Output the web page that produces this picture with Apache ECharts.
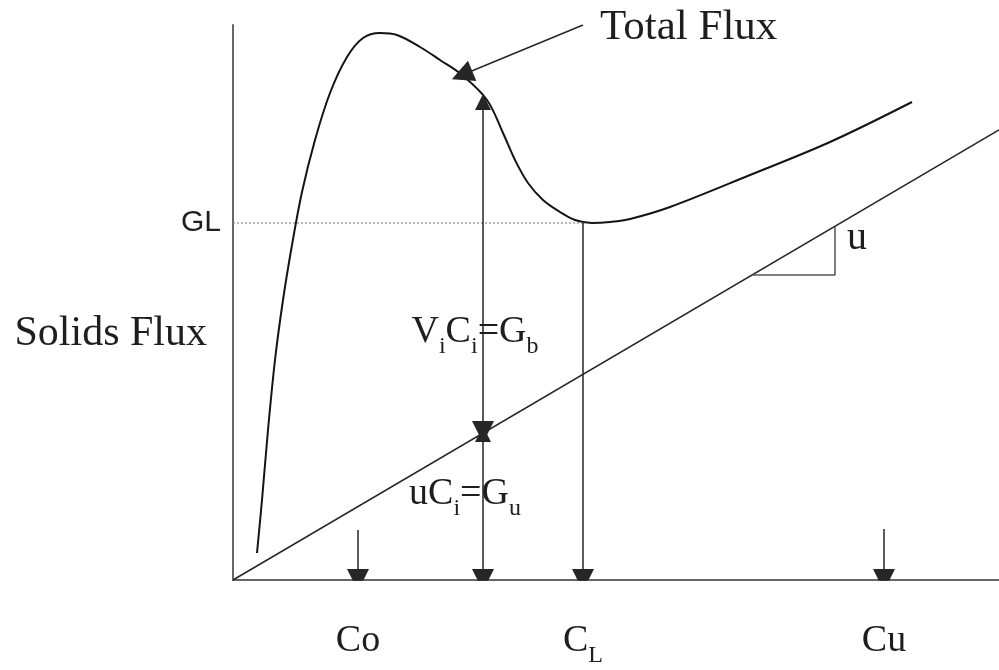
<!DOCTYPE html>
<html>
<head>
<meta charset="utf-8">
<script src="https://cdn.jsdelivr.net/npm/echarts@6/dist/echarts.min.js"></script>
<style>html,body{margin:0;padding:0;background:#fff;}#c{width:999px;height:670px;}</style>
</head>
<body>
<div id="c"></div>
<script>
// Total flux curve (arbitrary units: concentration vs solids flux)
const fluxC = [24, 29, 35, 42, 50, 59, 69, 82, 97, 114, 130, 147, 164, 187, 207, 229, 254, 270, 282, 295, 310, 327, 342, 359, 377, 397, 437, 517, 597, 679];
const fluxG = [27, 80, 150, 220, 280, 335, 388, 440, 487, 523, 542, 547, 545, 533, 520, 505, 480, 447, 420, 397, 380, 368, 360, 357, 358, 361, 373, 405, 438, 478];
// underflow flux line uC
const underC = [0, 766];
const underG = [0, 450];
// key values
const GL = 357;
const concNames = ['Co', 'CL', 'Cu'];
const concValues = [125, 350, 651];
const Ci = 250;
const GbTop = 478, GuTop = 147;
const arrowTopCo = 50, arrowTopCu = 51;
const totalFluxArrow = [[350, 555], [229, 505]];
const slopeTri = [[520, 305], [602, 305], [602, 353]];

const serif = '"Liberation Serif", "Times New Roman", serif';
const ink = '#1e1e1e';
const chart = echarts.init(document.getElementById('c'));
const arrowStyle = {color: '#262626', width: 1.5, opacity: 1};
const lineData = (pairs) => pairs.map(p => ({coords: p}));
const richSub = {
  m: {fontFamily: serif, fontSize: 38, color: ink, verticalAlign: 'bottom', padding: [0, 0, 7, 0]},
  s: {fontFamily: serif, fontSize: 24, color: ink, verticalAlign: 'bottom'}
};

chart.setOption({
  animation: false,
  grid: {left: 233, right: 0, top: 25, bottom: 90},
  xAxis: {
    type: 'value', min: 0, max: 766,
    axisLine: {show: true, lineStyle: {color: '#666', width: 2}},
    axisTick: {show: false}, splitLine: {show: false},
    axisLabel: {
      show: true, customValues: concValues, margin: 42,
      formatter: (v) => {
        const n = concNames[concValues.indexOf(v)];
        if (n === 'CL') return '{m|C}{s|L}';
        return '{m|' + n + '}';
      },
      rich: {
        m: {fontFamily: serif, fontSize: 38, color: ink, verticalAlign: 'bottom', padding: [0, 0, 8, 0]},
        s: {fontFamily: serif, fontSize: 24, color: ink, verticalAlign: 'bottom'}
      }
    }
  },
  yAxis: {
    type: 'value', min: 0, max: 555,
    axisLine: {show: true, lineStyle: {color: '#666', width: 2}},
    axisTick: {show: false}, splitLine: {show: false}, axisLabel: {show: false}
  },
  series: [
    {
      type: 'line', name: 'Total Flux', data: fluxC.map((c, i) => [c, fluxG[i]]),
      smooth: 0.35, showSymbol: false, lineStyle: {color: '#141414', width: 2}
    },
    {
      type: 'line', name: 'uC', data: underC.map((c, i) => [c, underG[i]]),
      showSymbol: false, lineStyle: {color: '#262626', width: 1.5}
    },
    {
      type: 'line', name: 'GL', data: [[0, GL], [concValues[1], GL]],
      showSymbol: false, lineStyle: {color: '#8a8a8a', width: 1.2, type: [2, 2]}
    },
    {
      type: 'line', name: 'slope', data: slopeTri,
      showSymbol: false, lineStyle: {color: '#555', width: 1.5}
    },
    {
      type: 'lines', coordinateSystem: 'cartesian2d', symbol: ['none', 'triangle'], symbolSize: [16, 22],
      lineStyle: arrowStyle, itemStyle: {color: '#111', opacity: 1}, z: 5,
      data: lineData([
        totalFluxArrow,
        [[concValues[0], arrowTopCo], [concValues[0], 0]],
        [[concValues[2], arrowTopCu], [concValues[2], 0]],
        [[concValues[1], GL], [concValues[1], 0]]
      ])
    },
    {
      type: 'lines', coordinateSystem: 'cartesian2d', symbol: ['triangle', 'triangle'], symbolSize: [16, 22],
      lineStyle: arrowStyle, itemStyle: {color: '#111', opacity: 1}, z: 5,
      data: lineData([
        [[Ci, GbTop], [Ci, GuTop + 1]],
        [[Ci, GuTop - 1], [Ci, 0]]
      ])
    },
    {
      type: 'scatter', symbolSize: 0, z: 10, itemStyle: {opacity: 1, color: ink},
      data: [
        {value: [0, GL], label: {show: true, position: 'left', distance: 12, formatter: 'GL',
          fontFamily: '"Liberation Sans", Arial, sans-serif', fontSize: 30, color: ink}},
        {value: [0, 246], label: {show: true, position: 'left', distance: 26, formatter: 'Solids Flux',
          fontFamily: serif, fontSize: 42, color: ink}},
        {value: [367, 552], label: {show: true, position: 'right', distance: 0, formatter: 'Total Flux',
          fontFamily: serif, fontSize: 43, color: ink}},
        {value: [624, 342], label: {show: true, position: 'inside', formatter: 'u',
          fontFamily: serif, fontSize: 40, color: ink}},
        {value: [242, 244], label: {show: true, position: 'inside',
          formatter: '{m|V}{s|i}{m|C}{s|i}{m|=G}{s|b}', rich: richSub}},
        {value: [232, 82], label: {show: true, position: 'inside',
          formatter: '{m|uC}{s|i}{m|=G}{s|u}', rich: richSub}}
      ]
    }
  ]
});
</script>
</body>
</html>
